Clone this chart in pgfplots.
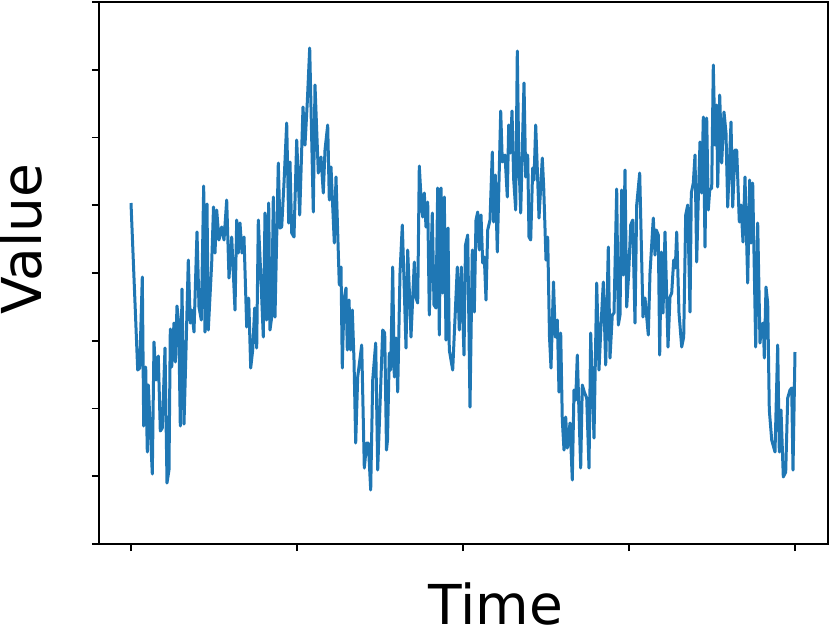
\documentclass[border=0pt]{standalone}
\usepackage{fontspec}
\setmainfont{DejaVu Sans}
\usepackage{pgfplots}
\pgfplotsset{compat=1.18}
\definecolor{c0}{HTML}{1F77B4}
\begin{document}
\begin{tikzpicture}
\useasboundingbox (-99pt,-85pt) rectangle (731pt,544pt);
\begin{axis}[
  scale only axis, width=729pt, height=542pt,
  xmin=99, xmax=828, ymin=2, ymax=544, y dir=reverse,
  xtick={131,297,463,629,795},
  ytick={2,69.75,137.5,205.25,273,340.75,408.5,476.25,544},
  xticklabels={}, yticklabels={},
  xtick pos=bottom, ytick pos=left, tick align=outside,
  major tick length=7pt,
  tick style={black, line width=1.6pt},
  axis line style={black, line width=1.6pt},
  xlabel={Time}, ylabel={Value},
  label style={font=\fontsize{55}{60}\selectfont, inner sep=0pt, outer sep=0pt},
  x label style={at={(axis description cs:0.5446,-0.1494)}, anchor=base},
  y label style={at={(axis description cs:-0.0782,0.5627)}, anchor=base, rotate=0},
]
\addplot[color=c0, line width=3pt, line join=round, no markers] table {
x y
131 203
137.7 370
139.7 368
142.3 277
143.7 426
145.7 367
147.3 452
148.3 385
152.3 474
154 342
156 380
158.3 356
160.3 431
162.3 428
165 348
167 483
169 470
170.3 329
171.7 367
174 323
175.3 362
177 306
178.7 323
180.3 426
182 289
184 424
185.7 362
188.3 260
190.3 323
191.7 310
194 332
197 232
199 307
201.3 320
203.7 186
205 332
207 204
208.3 330
211.7 263
213.5 207
215 253
216.7 210
219 240
221.7 227
224 240
226.7 200
229 278
231.7 237
235 310
236.7 220
238.3 253
240 223
242 253
244 237
246.7 327
248.7 298
250.7 368
252.7 350
254.7 308
256.7 348
258.3 220
260.7 273
263.3 337
265 213
266.7 320
268.7 203
270 330
271.7 317
273.3 197
275 317
278.3 163
280 228
281.7 227
284 183
286.7 123
288.7 223
290 162
291.7 233
294 237
296.7 140
299.7 215
303 107
305 145
307.3 102
309.7 48
313.3 212
315 85
318.3 173
321 157
323.3 193
325 150
327.7 125
329.3 200
331 167
334.3 243
336 177
339.3 285
341 267
342.3 368
344 300
346 288
347.3 350
349 300
350.7 350
352.3 310
354 360
355.7 443
357.7 377
361.7 345
364.3 468
366.7 443
368.3 443
370.7 490
372.7 380
375.7 343
377.7 470
382.7 330
384.7 333
386.5 450
387.5 440
389.3 353
390.7 370
392.7 267
394.3 377
396 338
397.7 392
400 273
402.3 225
404 280
406 348
407.7 250
409.3 290
411 337
414.3 262
415.7 297
417.7 303
419.3 166
421.3 203
422.7 217
424.3 193
426 227
427.7 202
429.3 315
432.3 213
434 305
436 308
437.7 188
439.3 335
441 188
442.7 293
444.3 197
446 340
448 228
449.3 350
452.7 370
457.3 267
459.3 330
461.3 267
464 355
465.5 245
467.7 235
470 407
472.3 250
474.3 312
476 220
477.7 212
479.3 250
481 215
482.7 263
484.3 257
486 300
487.7 230
490 220
492.3 152
493.7 222
495.3 175
497.3 252
500.7 111
502.3 162
505 155
507.3 197
508.7 125
510.3 153
512 111
513.7 180
515.7 210
517.3 51
518.7 155
520.7 213
524 83
525.7 177
527.7 155
529 237
530.7 240
532.7 168
534 180
535.7 125
537.7 180
539 218
542.3 158
543.7 187
546 260
547.7 237
549.5 337
551 368
553.5 282
555.3 337
557.3 320
559 392
560.7 333
562.3 420
564 450
565.7 417
567.3 448
570 423
572.3 480
574 390
575.7 400
577.3 355
579 413
580.7 468
582.3 385
584.3 392
586.7 398
589 468
590.7 333
594 438
596.7 283
599 370
600.7 332
603.3 282
605.7 365
608.3 247
610 358
612.3 315
614 313
616.7 189
618.3 325
620 315
621.7 190
623.3 275
625 170
626.7 307
628.7 273
630.7 225
632.7 220
635 323
636.7 205
639.7 173
643 317
645 298
648.3 335
650 273
653.3 218
655 255
656.3 230
658.3 235
659.7 355
661.3 252
663 313
665 232
668 347
670 297
671.7 293
673.7 260
675.3 268
676.7 232
679 313
681.7 347
683.7 337
685.7 215
687.7 205
690 312
691.3 193
693.3 183
695 155
696.7 262
698.3 198
700 142
701.7 193
703.3 117
705 247
706.7 118
708.3 210
709.7 190
711.7 188
713.3 65
715 145
716.7 105
717.7 187
719.7 95
721.7 163
724 112
726 133
727.7 207
731 122
732.7 207
735 150
736.7 150
739.3 222
741 205
743 242
745 177
747.7 283
749.7 180
751 243
752.7 183
755.7 347
757.7 223
760 343
761.7 325
763.3 323
764.3 358
766 287
767.7 303
769.3 410
771.7 440
775 452
777.7 345
779.3 452
781 410
783.3 477
785.7 472
787.7 398
790 390
791.7 388
793 470
795 352
};
\end{axis}
\end{tikzpicture}
\end{document}
